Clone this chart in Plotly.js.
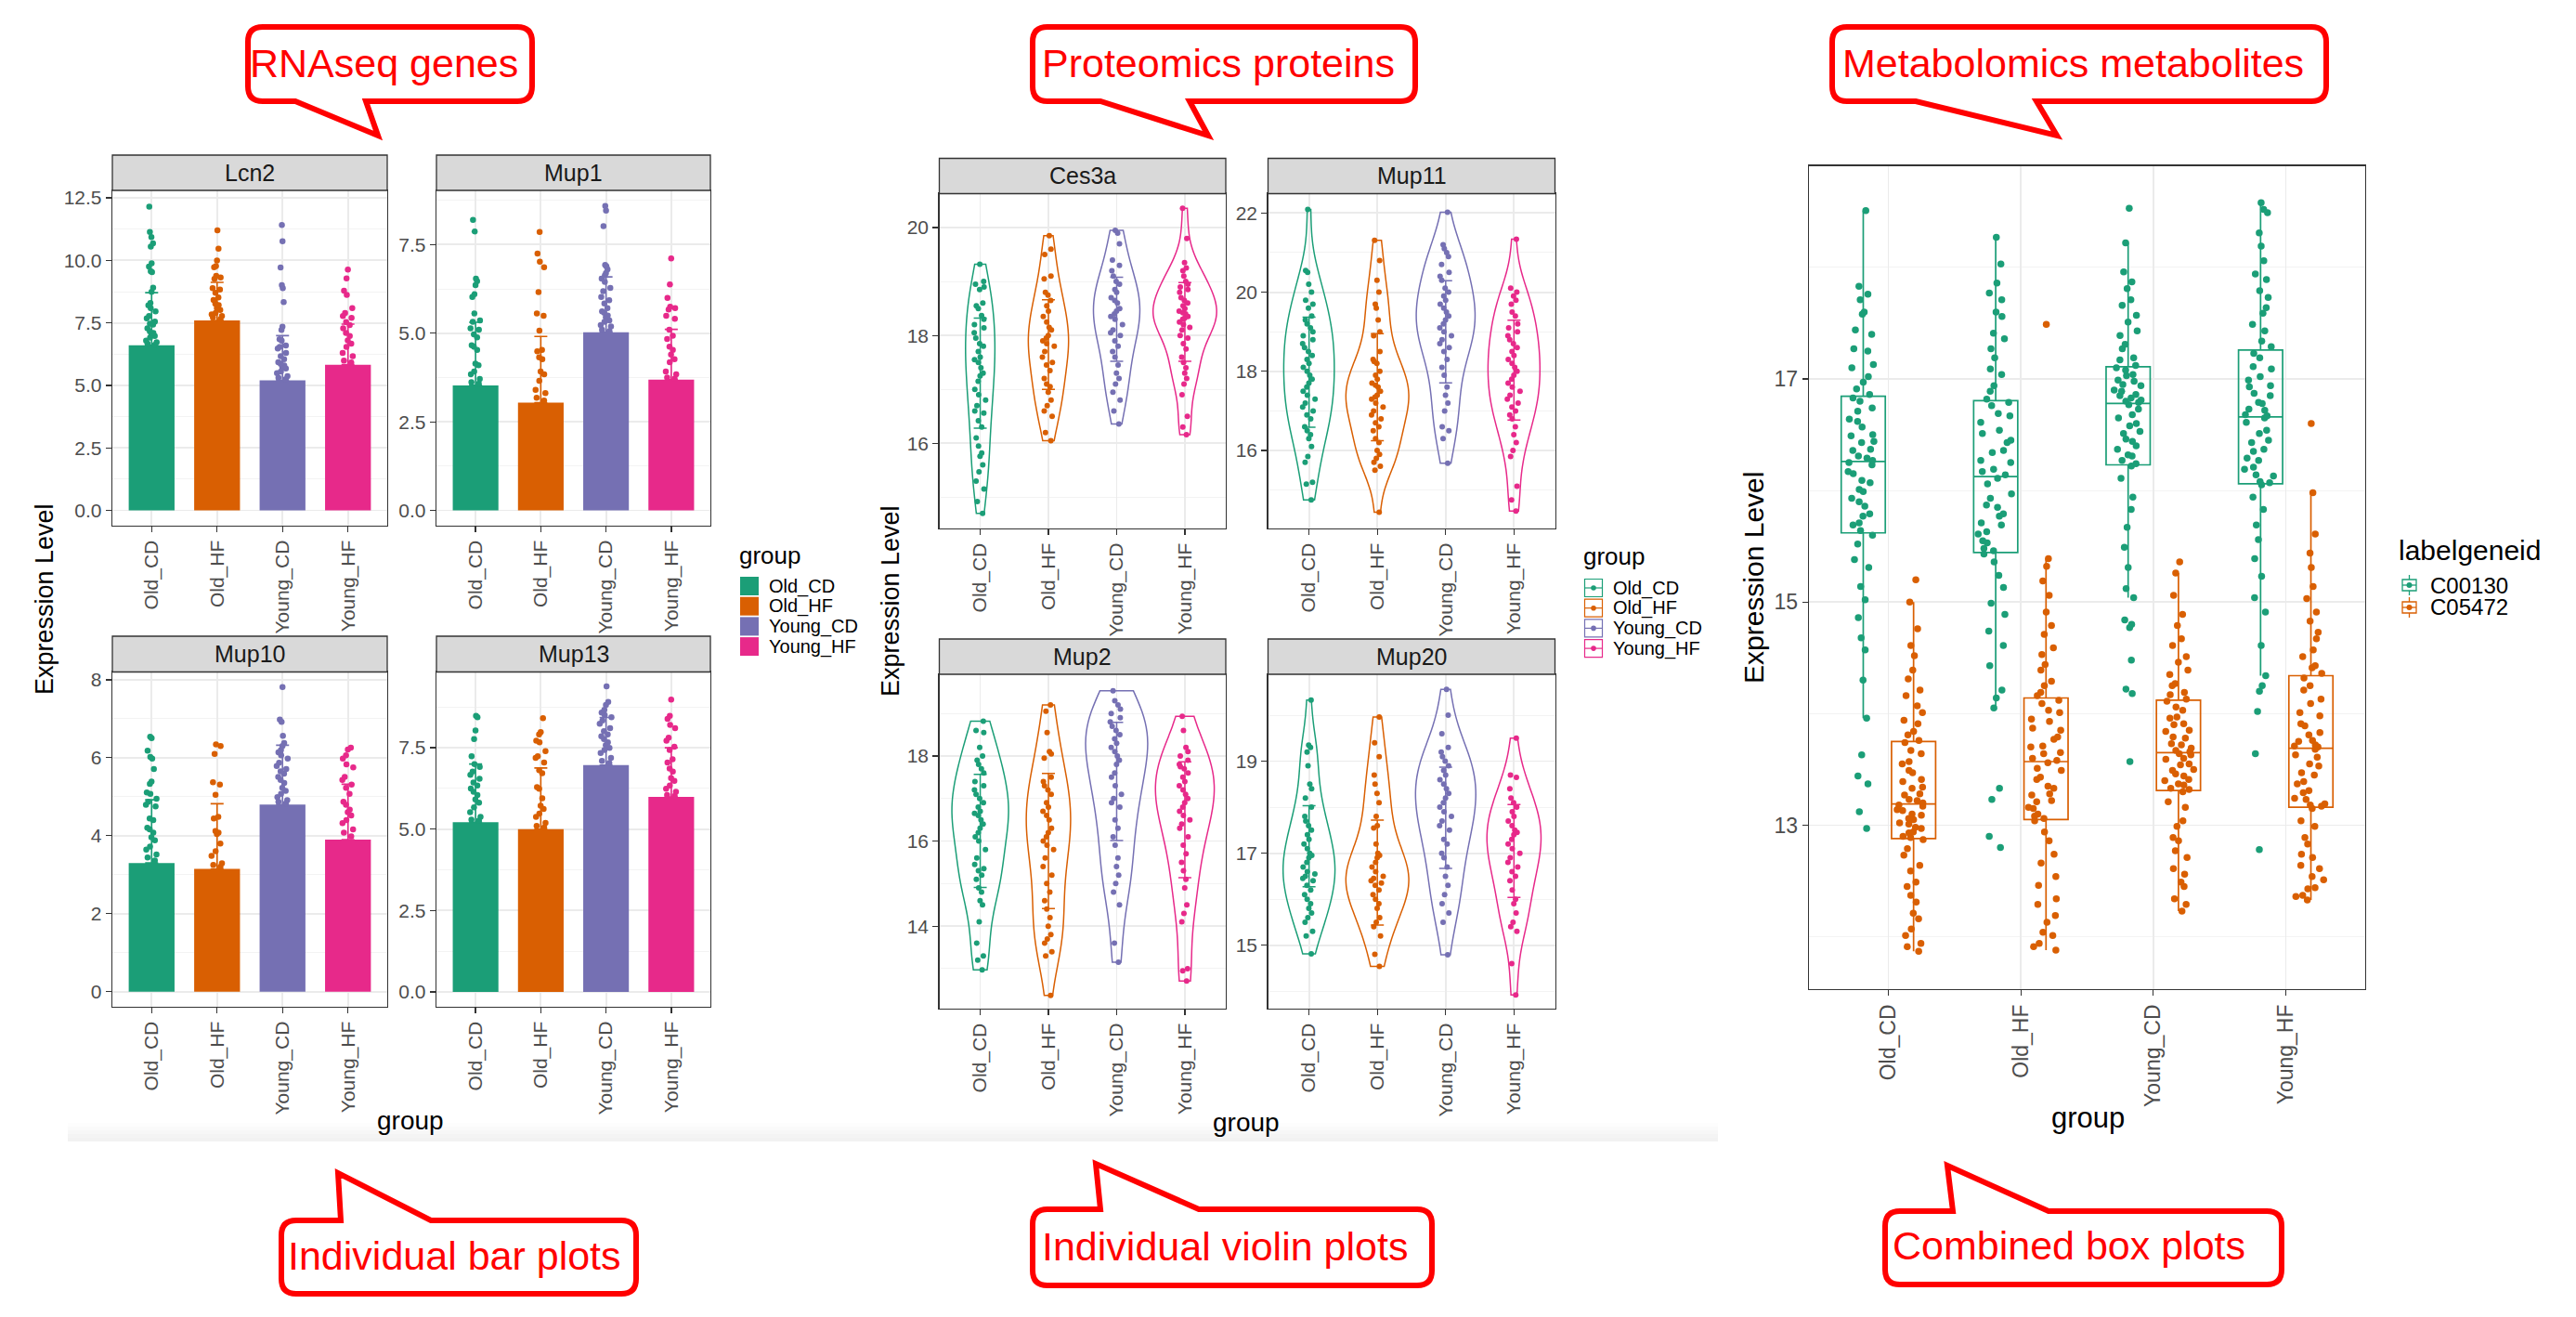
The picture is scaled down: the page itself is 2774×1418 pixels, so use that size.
<!DOCTYPE html>
<html><head><meta charset="utf-8">
<script src="https://cdn.plot.ly/plotly-3.0.1.min.js"></script>
<style>html,body{margin:0;padding:0;background:#fff;}#chart{width:2774px;height:1418px;}</style>
</head><body><div id="chart"></div>
<script>
// ---------------- DATA ----------------
const groups = ['Old_CD','Old_HF','Young_CD','Young_HF'];
const geneids = ['C00130','C05472'];

// RNAseq genes: bar = mean, whisker = mean + sd, points = samples visible above each bar
const Lcn2_mean = [6.61, 7.60, 5.20, 5.83];
const Lcn2_sd   = [2.10, 1.52, 1.79, 1.62];
const Lcn2_pts = [
 [12.15,11.14,10.93,10.68,10.55,9.88,9.75,9.57,9.53,8.91,8.74,8.3,8.2,8.09,7.96,7.78,7.68,7.55,7.47,7.43,7.28,7.16,7.1,7.04,6.98,6.91,6.79,6.73,6.67,6.62],
 [11.2,10.47,10.0,9.77,9.73,9.38,9.32,9.26,8.89,8.83,8.7,8.52,8.42,8.27,8.21,8.09,8.02,7.9,7.84,7.78,7.72,7.65],
 [11.42,10.77,9.72,9.01,8.89,8.33,7.35,7.22,6.85,6.79,6.6,6.54,6.48,6.3,6.17,6.05,5.93,5.86,5.8,5.72,5.68,5.56,5.49,5.37,5.31,5.25],
 [9.63,9.28,8.79,8.62,8.09,7.9,7.78,7.7,7.53,7.41,7.28,7.1,6.98,6.8,6.67,6.54,6.3,6.17,5.99,5.92]];
const Mup1_mean = [3.53, 3.04, 5.03, 3.69];
const Mup1_sd   = [1.78, 1.87, 1.56, 1.42];
const Mup1_pts = [
 [8.2,7.87,6.54,6.47,6.36,6.1,6.02,5.56,5.36,5.32,5.14,5.1,4.97,4.88,4.66,4.62,4.53,4.14,4.1,3.92,3.84,3.71,3.62,3.58],
 [7.86,7.25,7.02,6.86,6.16,5.56,5.49,5.07,4.53,4.49,4.32,4.27,3.92,3.84,3.66,3.4,3.31,3.18,3.1],
 [8.59,8.46,8.02,6.93,6.89,6.8,6.7,6.63,6.54,6.45,6.28,6.19,6.02,5.93,5.84,5.71,5.62,5.58,5.5,5.45,5.36,5.32,5.23,5.19,5.1,5.06],
 [7.11,6.38,6.0,5.75,5.71,5.67,5.49,5.41,5.1,4.93,4.84,4.62,4.53,4.4,4.27,4.18,3.92,3.84,3.75,3.72]];
const Mup10_mean = [3.30, 3.15, 4.80, 3.90];
const Mup10_sd   = [1.62, 1.67, 1.52, 1.42];
const Mup10_pts = [
 [6.54,6.5,6.18,6.02,5.98,5.71,5.39,5.33,5.11,5.07,4.95,4.87,4.79,4.75,4.44,4.4,4.2,4.16,4.08,3.96,3.88,3.72,3.64,3.52,3.44,3.36],
 [6.34,6.3,6.1,5.37,5.31,5.05,4.48,4.44,4.12,4.08,4.04,3.8,3.6,3.48,3.29,3.25,3.2],
 [7.81,6.98,6.92,6.56,6.38,6.3,6.2,6.14,6.06,5.98,5.87,5.79,5.71,5.65,5.59,5.51,5.43,5.35,5.23,5.15,5.07,4.99,4.91,4.87,4.83],
 [6.26,6.21,6.06,5.98,5.83,5.75,5.51,5.43,5.31,5.23,5.07,4.87,4.79,4.67,4.6,4.52,4.4,4.32,4.16,4.08,3.98]];
const Mup13_mean = [5.21, 5.00, 6.97, 5.99];
const Mup13_sd   = [1.79, 1.88, 1.46, 1.51];
const Mup13_pts = [
 [8.48,8.44,8.03,7.77,7.24,7.0,6.91,6.77,6.67,6.55,6.43,6.34,6.25,6.15,6.05,5.91,5.81,5.67,5.52,5.38,5.29,5.26],
 [8.41,7.98,7.91,7.72,7.67,7.4,7.24,7.19,7.05,6.81,6.72,6.29,6.24,5.95,5.72,5.62,5.48,5.38,5.19,5.1,5.05],
 [9.39,8.91,8.82,8.67,8.58,8.5,8.44,8.34,8.24,8.1,8.01,7.91,7.85,7.77,7.67,7.58,7.5,7.43,7.34,7.19,7.1,7.03],
 [8.98,8.48,8.39,8.2,8.1,7.81,7.72,7.53,7.43,7.15,7.05,6.86,6.77,6.57,6.48,6.34,6.24,6.15,6.05,6.02]];

// Proteomics proteins: violin samples, mean and sd
const Ces3a_pts = [
 [19.32,19.0,18.95,18.9,18.85,18.6,18.55,18.5,18.37,18.3,18.2,18.14,18.05,17.95,17.85,17.8,17.7,17.6,17.55,17.5,17.4,17.3,17.25,17.15,17.0,16.9,16.8,16.7,16.6,16.56,16.42,16.3,16.1,15.95,15.82,15.76,15.6,15.47,15.3,15.15,14.92,14.7],
 [19.85,19.6,19.5,19.1,19.05,18.8,18.75,18.65,18.55,18.45,18.35,18.25,18.15,18.1,18.0,17.95,17.9,17.85,17.8,17.7,17.6,17.5,17.45,17.35,17.2,17.1,17.05,16.95,16.8,16.7,16.6,16.5,16.2,16.05],
 [19.95,19.9,19.7,19.4,19.3,19.2,19.1,19.0,18.95,18.85,18.8,18.7,18.65,18.6,18.5,18.45,18.4,18.35,18.3,18.2,18.1,18.05,18.0,17.9,17.8,17.7,17.6,17.45,17.3,17.2,17.1,16.95,16.8,16.6,16.36],
 [20.36,19.8,19.35,19.25,19.2,19.1,19.0,18.95,18.9,18.85,18.8,18.7,18.65,18.6,18.55,18.5,18.45,18.42,18.4,18.35,18.32,18.3,18.25,18.2,18.15,18.1,18.0,17.95,17.85,17.75,17.6,17.5,17.4,17.3,17.2,17.1,16.9,16.5,16.3,16.16]];
const Ces3a_mean = [17.30, 17.83, 18.30, 18.25];
const Ces3a_sd   = [1.02, 0.83, 0.78, 0.73];
const Mup11_pts = [
 [22.09,20.55,20.5,20.2,20.0,19.8,19.7,19.6,19.4,19.3,19.2,19.1,19.0,18.9,18.8,18.7,18.6,18.5,18.4,18.3,18.2,18.1,18.0,17.9,17.8,17.7,17.6,17.5,17.4,17.3,17.2,17.1,17.0,16.9,16.8,16.6,16.5,16.4,16.3,16.1,15.85,15.7,15.2,15.15,14.75],
 [21.31,20.8,20.3,20.0,19.7,19.6,19.3,19.0,18.9,18.5,18.3,18.25,18.2,18.0,17.9,17.8,17.7,17.65,17.6,17.5,17.4,17.35,17.3,17.2,17.1,17.0,16.9,16.8,16.7,16.6,16.5,16.3,16.2,16.0,15.9,15.8,15.7,15.6,15.5,14.44],
 [22.02,21.2,21.1,21.0,20.9,20.7,20.5,20.4,20.3,20.1,20.0,19.9,19.8,19.7,19.6,19.5,19.4,19.3,19.2,19.1,19.0,18.9,18.8,18.7,18.6,18.5,18.3,18.1,17.9,17.6,17.4,17.2,17.0,16.6,16.5,16.3,15.68],
 [21.34,20.1,20.0,19.9,19.8,19.7,19.5,19.4,19.2,19.1,19.0,18.9,18.8,18.7,18.6,18.5,18.4,18.3,18.2,18.1,18.0,17.9,17.8,17.7,17.6,17.5,17.4,17.3,17.2,17.1,17.0,16.9,16.8,16.6,16.4,16.2,16.0,15.85,15.1,14.75,14.47]];
const Mup11_mean = [17.98, 17.60, 19.00, 18.03];
const Mup11_sd   = [1.39, 1.35, 1.29, 1.26];
const Mup2_pts = [
 [18.82,18.6,18.55,18.2,18.0,17.9,17.8,17.7,17.6,17.4,17.3,17.2,17.1,17.0,16.9,16.8,16.7,16.65,16.6,16.5,16.4,16.3,16.2,16.1,16.0,15.8,15.6,15.45,15.35,15.3,15.2,15.1,14.9,14.8,14.6,14.5,14.1,13.6,13.3,13.2,12.97],
 [19.2,19.05,18.55,18.1,18.05,17.95,17.5,17.4,17.3,17.2,17.1,16.9,16.8,16.7,16.6,16.5,16.3,16.2,16.1,16.0,15.9,15.8,15.6,15.4,15.2,15.0,14.8,14.6,14.4,14.2,14.0,13.8,13.7,13.6,13.4,13.3,12.37],
 [19.53,19.3,19.2,19.1,19.0,18.9,18.8,18.7,18.6,18.5,18.4,18.3,18.2,18.1,18.0,17.9,17.8,17.6,17.5,17.3,17.1,17.0,16.9,16.8,16.5,16.3,16.1,15.9,15.6,15.4,15.2,15.0,14.8,14.5,13.6,13.15],
 [18.93,18.6,18.2,18.1,18.0,17.9,17.8,17.75,17.7,17.6,17.5,17.4,17.3,17.2,17.1,17.0,16.9,16.8,16.7,16.6,16.5,16.4,16.3,16.1,15.9,15.7,15.5,15.3,15.1,14.9,14.5,14.3,14.1,13.0,12.95,12.71]];
const Mup2_mean = [16.24, 16.00, 17.40, 16.50];
const Mup2_sd   = [1.33, 1.59, 1.39, 1.36];
const Mup20_pts = [
 [20.33,19.35,19.3,19.2,18.9,18.5,18.4,18.2,18.0,17.8,17.7,17.6,17.5,17.4,17.3,17.2,17.1,17.0,16.95,16.9,16.8,16.7,16.6,16.55,16.5,16.45,16.4,16.3,16.2,16.1,16.0,15.9,15.8,15.7,15.6,15.5,15.3,15.2,14.81],
 [19.96,19.4,19.1,18.7,18.5,18.3,18.1,17.8,17.6,17.55,17.2,17.0,16.95,16.9,16.8,16.7,16.6,16.5,16.45,16.4,16.35,16.3,16.2,16.1,16.0,15.9,15.8,15.6,15.5,15.4,15.2,14.8,14.54],
 [20.56,20.0,19.6,19.3,19.2,19.1,19.0,18.9,18.8,18.7,18.6,18.5,18.4,18.3,18.2,18.1,18.0,17.9,17.8,17.7,17.6,17.5,17.3,17.2,17.0,16.9,16.7,16.5,16.3,16.1,15.9,15.7,15.5,14.79],
 [19.5,18.7,18.65,18.4,18.2,18.1,18.0,17.9,17.8,17.7,17.6,17.5,17.45,17.4,17.3,17.2,17.1,17.0,16.9,16.8,16.7,16.6,16.5,16.4,16.2,16.0,15.9,15.7,15.5,15.4,15.3,14.6,13.92]];
const Mup20_mean = [17.15, 16.58, 17.77, 17.05];
const Mup20_sd   = [0.88, 1.14, 1.10, 1.01];

// Metabolomics metabolites: samples per group for each labelgeneid
const C00130_pts = [
 [18.51,17.83,17.76,17.71,17.6,17.58,17.44,17.4,17.27,17.25,17.13,17.1,17.02,16.97,16.91,16.86,16.83,16.8,16.74,16.71,16.64,16.62,16.57,16.5,16.49,16.44,16.43,16.37,16.36,16.31,16.29,16.27,16.25,16.23,16.17,16.15,16.09,16.07,16.01,15.99,15.93,15.9,15.86,15.79,15.77,15.71,15.69,15.64,15.6,15.52,15.38,15.31,15.14,15.02,14.86,14.68,14.57,14.3,13.96,13.63,13.44,13.37,13.12,12.97],
 [18.27,18.03,17.86,17.77,17.71,17.6,17.56,17.41,17.36,17.27,17.19,17.09,17.04,16.94,16.89,16.82,16.79,16.76,16.69,16.67,16.61,16.54,16.51,16.45,16.43,16.36,16.34,16.27,16.25,16.19,16.17,16.14,16.11,16.06,15.97,15.93,15.87,15.85,15.79,15.77,15.71,15.69,15.63,15.61,15.55,15.53,15.48,15.46,15.43,15.36,15.24,15.13,14.99,14.89,14.74,14.61,14.43,14.21,14.14,14.05,13.33,13.23,12.9,12.8],
 [18.53,18.22,17.96,17.87,17.81,17.71,17.66,17.57,17.51,17.43,17.39,17.31,17.27,17.19,17.17,17.12,17.1,17.08,17.04,17.03,16.99,16.98,16.95,16.94,16.9,16.89,16.86,16.85,16.83,16.81,16.8,16.79,16.77,16.73,16.68,16.65,16.6,16.58,16.53,16.51,16.46,16.44,16.4,16.37,16.32,16.31,16.27,16.24,16.22,16.11,15.94,15.83,15.67,15.49,15.31,15.12,15.04,14.84,14.8,14.77,14.48,14.22,14.18,13.57],
 [18.58,18.52,18.49,18.31,18.19,18.06,17.94,17.89,17.79,17.73,17.64,17.59,17.49,17.43,17.34,17.29,17.23,17.19,17.11,17.09,17.02,16.99,16.94,16.93,16.87,16.85,16.79,16.78,16.73,16.72,16.68,16.67,16.65,16.61,16.54,16.51,16.45,16.43,16.37,16.35,16.29,16.27,16.21,16.19,16.14,16.13,16.08,16.07,16.05,15.94,15.83,15.69,15.56,15.39,15.23,15.04,14.91,14.61,14.34,14.25,14.2,14.02,13.64,12.78]];
const C05472_pts = [
 [15.2,15.0,14.76,14.61,14.52,14.39,14.31,14.21,14.16,14.07,14.01,13.94,13.91,13.84,13.81,13.76,13.74,13.67,13.64,13.57,13.55,13.49,13.47,13.41,13.39,13.34,13.33,13.28,13.27,13.23,13.22,13.2,13.18,13.17,13.14,13.13,13.1,13.09,13.06,13.05,13.02,13.01,12.98,12.97,12.94,12.93,12.9,12.89,12.87,12.79,12.73,12.64,12.59,12.49,12.45,12.37,12.31,12.21,12.16,12.07,12.01,11.94,11.91,11.87],
 [17.49,15.39,15.32,15.19,15.06,14.91,14.79,14.71,14.59,14.53,14.44,14.39,14.29,14.25,14.19,14.16,14.12,14.09,14.03,14.01,13.95,13.93,13.87,13.85,13.79,13.77,13.71,13.7,13.65,13.64,13.6,13.58,13.56,13.51,13.49,13.43,13.41,13.35,13.33,13.28,13.27,13.22,13.21,13.16,13.15,13.1,13.08,13.06,13.04,12.94,12.86,12.74,12.66,12.54,12.46,12.34,12.29,12.19,12.13,12.04,12.01,11.94,11.91,11.88],
 [15.36,15.26,15.06,14.89,14.79,14.67,14.61,14.51,14.46,14.39,14.35,14.27,14.25,14.19,14.17,14.13,14.11,14.06,14.03,13.97,13.96,13.91,13.9,13.85,13.84,13.79,13.78,13.73,13.72,13.69,13.67,13.66,13.64,13.63,13.6,13.59,13.55,13.54,13.5,13.49,13.46,13.44,13.41,13.4,13.37,13.36,13.33,13.32,13.3,13.21,13.16,13.04,12.99,12.89,12.86,12.77,12.71,12.61,12.56,12.49,12.45,12.34,12.29,12.23],
 [16.6,15.98,15.61,15.44,15.31,15.14,15.03,14.91,14.83,14.73,14.67,14.57,14.51,14.43,14.41,14.36,14.32,14.25,14.21,14.13,14.09,14.01,13.98,13.91,13.89,13.83,13.81,13.76,13.75,13.72,13.71,13.7,13.68,13.63,13.61,13.55,13.53,13.47,13.45,13.39,13.37,13.31,13.29,13.24,13.23,13.19,13.18,13.17,13.15,13.04,12.99,12.89,12.83,12.74,12.71,12.64,12.61,12.54,12.51,12.44,12.43,12.37,12.36,12.33]];

// ---------------- STYLE / LAYOUT ----------------
const W = 2774, H = 1418;
const X = p => p / W, Y = p => 1 - p / H;
const COLORS = ['#1B9E77', '#D95F02', '#7570B3', '#E7298A'];
const FONT = 'Liberation Sans, Arial, sans-serif';
const CALLFONT = 'Liberation Sans, Arial, sans-serif';
const violinWidths = {Ces3a:[0.43,0.59,0.68,0.93], Mup11:[0.74,0.92,0.86,0.76], Mup2:[0.83,0.65,0.91,0.86], Mup20:[0.76,0.92,0.88,0.79]};
const colX = {A:[121,417], B:[470,765], C:[1011.5,1320], D:[1365.5,1674.5], R:[1948,2547]};

const barSets = {Lcn2:[Lcn2_mean,Lcn2_sd,Lcn2_pts], Mup1:[Mup1_mean,Mup1_sd,Mup1_pts], Mup10:[Mup10_mean,Mup10_sd,Mup10_pts], Mup13:[Mup13_mean,Mup13_sd,Mup13_pts]};
const vioSets = {Ces3a:[Ces3a_mean,Ces3a_sd,Ces3a_pts], Mup11:[Mup11_mean,Mup11_sd,Mup11_pts], Mup2:[Mup2_mean,Mup2_sd,Mup2_pts], Mup20:[Mup20_mean,Mup20_sd,Mup20_pts]};

// ggplot-style (nrd0) kernel bandwidth from the samples
function nrd0(v) {
  const n = v.length, s = [...v].sort((a, b) => a - b);
  const m = s.reduce((a, b) => a + b, 0) / n;
  const sd = Math.sqrt(s.reduce((a, b) => a + (b - m) * (b - m), 0) / (n - 1));
  const q = p => { const h = (n - 1) * p, lo = Math.floor(h); return s[lo] + (h - lo) * ((s[lo + 1] ?? s[lo]) - s[lo]); };
  const lo = Math.min(sd, (q(0.75) - q(0.25)) / 1.34);
  return 0.9 * lo * Math.pow(n, -0.2);
}

const facets = [
 {name:'Lcn2', kind:'bar', col:'A', strip:[167,205], plot:[205,566], range:[-0.61,12.8], dtick:2.5, tick0:0, fmt:'.1f'},
 {name:'Mup1', kind:'bar', col:'B', strip:[167,205], plot:[205,566], range:[-0.43,9.03], dtick:2.5, tick0:0, fmt:'.1f'},
 {name:'Mup10', kind:'bar', col:'A', strip:[685,723.5], plot:[723.5,1084], range:[-0.39,8.2], dtick:2, tick0:0, fmt:''},
 {name:'Mup13', kind:'bar', col:'B', strip:[685,723.5], plot:[723.5,1084], range:[-0.46,9.83], dtick:2.5, tick0:0, fmt:'.1f'},
 {name:'Ces3a', kind:'vio', col:'C', strip:[170.5,208.5], plot:[208.5,569], range:[14.42,20.63], dtick:2, tick0:0, fmt:''},
 {name:'Mup11', kind:'vio', col:'D', strip:[170.5,208.5], plot:[208.5,569], range:[14.03,22.49], dtick:2, tick0:0, fmt:''},
 {name:'Mup2', kind:'vio', col:'C', strip:[688,726], plot:[726,1086], range:[12.06,19.92], dtick:2, tick0:0, fmt:''},
 {name:'Mup20', kind:'vio', col:'D', strip:[688,726], plot:[726,1086], range:[13.62,20.89], dtick:2, tick0:1, fmt:''},
 {name:'', kind:'box', col:'R', strip:null, plot:[178.6,1065], range:[11.53,18.91], dtick:2, tick0:1, fmt:''}
];

const data = [];
const layout = {
  width: W, height: H, margin:{l:0,r:0,t:0,b:0}, showlegend:false,
  paper_bgcolor:'#ffffff', plot_bgcolor:'#ffffff', font:{family:FONT, color:'#000'},
  barmode:'overlay', boxmode:'group', boxgap:0.24, boxgroupgap:0.124, violinmode:'overlay',
  shapes:[], annotations:[]
};
const fill = (arr, v) => arr.map(() => v);

facets.forEach((f, i) => {
  const k = i + 1, xa = 'x' + k, ya = 'y' + k;
  const cx = colX[f.col];
  const big = f.kind === 'box';
  const tf = {family:FONT, size: big ? 23 : 21, color:'#4D4D4D'};
  layout['xaxis' + k] = {
    domain:[X(cx[0]), X(cx[1])], anchor: ya, type:'category', categoryorder:'array', categoryarray: groups,
    range:[-0.6, 3.6], tickangle:-90, showline:true, mirror:true, linecolor:'#333333', linewidth:1.3,
    ticks:'outside', ticklen:6, tickwidth:1.3, tickcolor:'#333333', showgrid:true, gridcolor:'#EBEBEB', gridwidth:1.8,
    zeroline:false, tickfont: tf, fixedrange:true
  };
  layout['yaxis' + k] = {
    domain:[Y(f.plot[1]), Y(f.plot[0])], anchor: xa, range: f.range, dtick: f.dtick, tick0: f.tick0, tickformat: f.fmt,
    showline:true, mirror:true, linecolor:'#333333', linewidth:1.3, ticks:'outside', ticklen:6, tickwidth:1.3, tickcolor:'#333333',
    showgrid:true, gridcolor:'#EBEBEB', gridwidth:1.8, zeroline:false, tickfont: tf, fixedrange:true,
    minor:{dtick: f.dtick / 2, tick0: f.tick0, showgrid:true, gridcolor:'#F3F3F3', gridwidth:1}
  };
  if (f.strip) {
    layout.shapes.push({type:'rect', xref:'paper', yref:'paper', x0:X(cx[0]), x1:X(cx[1]), y0:Y(f.strip[1]), y1:Y(f.strip[0]),
      fillcolor:'#D9D9D9', line:{color:'#333333', width:1.3}});
    layout.annotations.push({xref:'paper', yref:'paper', x:X((cx[0]+cx[1])/2), y:Y((f.strip[0]+f.strip[1])/2),
      text:f.name, showarrow:false, font:{family:FONT, size:25, color:'#1A1A1A'}, xanchor:'center', yanchor:'middle'});
  }
  if (f.kind === 'bar') {
    const [mean, sd, pts] = barSets[f.name];
    groups.forEach((g, j) => {
      data.push({type:'bar', x:[g], y:[mean[j]], width:0.7, xaxis:xa, yaxis:ya, hoverinfo:'skip',
        marker:{color:COLORS[j], line:{width:0}},
        error_y:{type:'data', symmetric:false, array:[sd[j]], arrayminus:[0], color:COLORS[j], thickness:1.6, width:7}});
      data.push({type:'box', x:fill(pts[j], g), y:pts[j], xaxis:xa, yaxis:ya, width:0.4, boxpoints:'all', jitter:0.5, pointpos:0,
        fillcolor:'rgba(0,0,0,0)', line:{width:0, color:'rgba(0,0,0,0)'}, whiskerwidth:0, hoverinfo:'skip',
        marker:{size:6.5, color:COLORS[j], line:{width:0}}});
    });
  } else if (f.kind === 'vio') {
    const [mean, sd, pts] = vioSets[f.name];
    groups.forEach((g, j) => {
      const w = violinWidths[f.name][j];
      data.push({type:'violin', x:fill(pts[j], g), y:pts[j], xaxis:xa, yaxis:ya, width:w, scalemode:'width', spanmode:'hard',
        bandwidth: nrd0(pts[j]),
        points:'all', pointpos:0, jitter:Math.min(1, 0.2 / w), line:{color:COLORS[j], width:1.5}, fillcolor:'rgba(255,255,255,0)',
        marker:{size:6, color:COLORS[j], line:{width:0}}, box:{visible:false}, meanline:{visible:false}, hoverinfo:'skip'});
      data.push({type:'scatter', mode:'markers', x:[g], y:[mean[j]], xaxis:xa, yaxis:ya, hoverinfo:'skip',
        marker:{size:1, color:'rgba(0,0,0,0)'},
        error_y:{type:'data', array:[sd[j]], color:COLORS[j], thickness:1.5, width:7}});
    });
  } else {
    [C00130_pts, C05472_pts].forEach((pts, j) => {
      const xs = [], ys = [];
      groups.forEach((g, gi) => { pts[gi].forEach(v => { xs.push(g); ys.push(v); }); });
      data.push({type:'box', name:geneids[j], x:xs, y:ys, xaxis:xa, yaxis:ya, offsetgroup:geneids[j],
        boxpoints:'all', jitter:0.8, pointpos:0, whiskerwidth:0, fillcolor:'rgba(255,255,255,0)',
        line:{color:COLORS[j], width:1.7}, marker:{size:7.5, color:COLORS[j], line:{width:0}}, hoverinfo:'skip'});
    });
  }
});

// axis titles
const ann = (x, y, text, size, extra) => layout.annotations.push(Object.assign({xref:'paper', yref:'paper', x:X(x), y:Y(y), text,
  showarrow:false, font:{family:FONT, size, color:'#000'}, xanchor:'center', yanchor:'middle'}, extra || {}));
ann(48, 645, 'Expression Level', 27, {textangle:-90});
ann(959, 647, 'Expression Level', 27, {textangle:-90});
ann(1888, 622, 'Expression Level', 30, {textangle:-90});
ann(442, 1206, 'group', 28);
ann(1342, 1208, 'group', 28);
ann(2248, 1203, 'group', 31);

// legends
const rect = (x0, y0, x1, y1, fc, lc, lw) => layout.shapes.push({type:'rect', xref:'paper', yref:'paper', x0:X(x0), x1:X(x1), y0:Y(y1), y1:Y(y0),
  fillcolor:fc, line:{color:lc || 'rgba(0,0,0,0)', width:lw || 0}});
const seg = (x0, y0, x1, y1, c, w) => layout.shapes.push({type:'line', xref:'paper', yref:'paper', x0:X(x0), x1:X(x1), y0:Y(y0), y1:Y(y1), line:{color:c, width:w}});
const dot = (x, y, r, c) => layout.shapes.push({type:'circle', xref:'paper', yref:'paper', x0:X(x-r), x1:X(x+r), y0:Y(y+r), y1:Y(y-r), fillcolor:c, line:{width:0}});
const leftText = (x, y, text, size) => ann(x, y, text, size, {xanchor:'left'});

leftText(794, 598, 'group', 26);
groups.forEach((g, j) => {
  const c = 631 + j * 21.7;
  rect(797, c - 10, 817, c + 10, COLORS[j]);
  leftText(826, c, g, 20);
});
leftText(1703, 599, 'group', 26);
groups.forEach((g, j) => {
  const c = 633 + j * 21.7;
  rect(1706.5, c - 9.5, 1725.5, c + 9.5, '#ffffff', COLORS[j], 1.2);
  seg(1706.5, c, 1725.5, c, COLORS[j], 1.2);
  dot(1716, c, 2.8, COLORS[j]);
  leftText(1735, c, g, 20);
});
leftText(2581, 592, 'labelgeneid', 30);
geneids.forEach((g, j) => {
  const c = 630 + j * 24;
  rect(2587, c - 6, 2602, c + 6, '#ffffff', COLORS[j], 1.3);
  seg(2594.5, c - 11, 2594.5, c - 6, COLORS[j], 1.3);
  seg(2594.5, c + 6, 2594.5, c + 11, COLORS[j], 1.3);
  seg(2587, c, 2602, c, COLORS[j], 1.3);
  dot(2594.5, c, 3, COLORS[j]);
  leftText(2615, c, g, 24);
});

// faint shadow band under the left and middle figures
['#FDFDFD','#FAFAFA','#F7F7F7','#F4F4F4','#F2F2F2'].forEach((c, i) => {
  layout.shapes.push({type:'rect', xref:'paper', yref:'paper', layer:'below', x0:X(73), x1:X(1850), y0:Y(1213 + i*4), y1:Y(1209 + i*4), fillcolor:c, line:{width:0}});
});

// callouts
const P = (x, y) => X(x).toFixed(5) + ',' + Y(y).toFixed(5);
function calloutDown(x0, y0, x1, y1, b1, b2, tx, ty, r) {
  return 'M' + P(x0 + r, y0) + ' L' + P(x1 - r, y0) + ' Q' + P(x1, y0) + ' ' + P(x1, y0 + r) + ' L' + P(x1, y1 - r) +
    ' Q' + P(x1, y1) + ' ' + P(x1 - r, y1) + ' L' + P(b2, y1) + ' L' + P(tx, ty) + ' L' + P(b1, y1) + ' L' + P(x0 + r, y1) +
    ' Q' + P(x0, y1) + ' ' + P(x0, y1 - r) + ' L' + P(x0, y0 + r) + ' Q' + P(x0, y0) + ' ' + P(x0 + r, y0) + ' Z';
}
function calloutUp(x0, y0, x1, y1, b1, b2, tx, ty, r) {
  return 'M' + P(x0 + r, y0) + ' L' + P(b1, y0) + ' L' + P(tx, ty) + ' L' + P(b2, y0) + ' L' + P(x1 - r, y0) +
    ' Q' + P(x1, y0) + ' ' + P(x1, y0 + r) + ' L' + P(x1, y1 - r) + ' Q' + P(x1, y1) + ' ' + P(x1 - r, y1) + ' L' + P(x0 + r, y1) +
    ' Q' + P(x0, y1) + ' ' + P(x0, y1 - r) + ' L' + P(x0, y0 + r) + ' Q' + P(x0, y0) + ' ' + P(x0 + r, y0) + ' Z';
}
const callouts = [
  {path: calloutDown(267, 29, 573, 109, 318, 394, 407, 146, 16), text:'RNAseq genes', x:413, y:68},
  {path: calloutDown(1112, 29, 1524, 109, 1185, 1281, 1301, 146, 16), text:'Proteomics proteins', x:1312, y:68},
  {path: calloutDown(1973, 29, 2505, 109, 2063, 2193, 2215, 146, 16), text:'Metabolomics metabolites', x:2232, y:68},
  {path: calloutUp(303, 1314, 685, 1393, 367, 464, 364, 1263, 16), text:'Individual bar plots', x:489, y:1352},
  {path: calloutUp(1112, 1302, 1542, 1384, 1185, 1291, 1180, 1253, 16), text:'Individual violin plots', x:1319, y:1342},
  {path: calloutUp(2030, 1304, 2457, 1383, 2103, 2206, 2097, 1255, 16), text:'Combined box plots', x:2228, y:1341}
];
callouts.forEach(c => {
  layout.shapes.push({type:'path', xref:'paper', yref:'paper', path:c.path, fillcolor:'#ffffff', line:{color:'#FF0000', width:6}});
  layout.annotations.push({xref:'paper', yref:'paper', x:X(c.x), y:Y(c.y), text:c.text, showarrow:false,
    font:{family:CALLFONT, size:43, color:'#FF0000'}, xanchor:'center', yanchor:'middle'});
});

Plotly.newPlot('chart', data, layout, {displayModeBar:false, staticPlot:true});
</script>
</body></html>
